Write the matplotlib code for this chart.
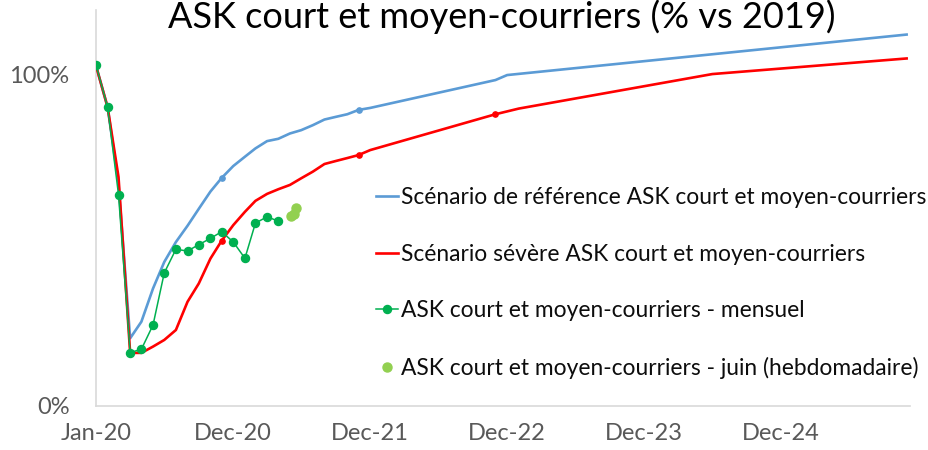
import pandas as pd
import matplotlib
matplotlib.use("Agg")
import matplotlib.pyplot as plt

plt.rcParams['font.family'] = ['Lato', 'DejaVu Sans']

# monthly points Jan-20 .. Jan-22, then a few points where the curves bend
blue_dates = list(pd.date_range('2020-01-01', '2022-01-01', freq='MS')) + \
    list(pd.to_datetime(['2022-12-01', '2023-01-01', '2025-12-01']))
blue_vals = [102.5, 90, 67, 20.4, 25.4, 35.4, 43.4, 49.4, 54.3, 59.4, 64.6, 68.7,
             72.3, 75.1, 77.6, 79.8, 80.5, 82.1, 83.1, 84.6, 86.3, 87.1, 87.9, 89.2,
             89.8, 98.2, 99.7, 111.9]

red_dates = list(pd.date_range('2020-01-01', '2022-01-01', freq='MS')) + \
    list(pd.to_datetime(['2022-12-01', '2023-02-01', '2024-07-01', '2025-12-01']))
red_vals = [102.5, 90, 69, 16, 16, 17.9, 19.9, 22.9, 31.4, 36.9, 44.4, 49.8,
            54.5, 58.5, 61.8, 63.9, 65.3, 66.6, 68.6, 70.6, 72.9, 73.8, 74.7, 75.6,
            77.1, 87.9, 89.6, 100, 104.7]

green_dates = pd.date_range('2020-01-01', '2021-05-01', freq='MS')
green_vals = [102.7, 90.0, 63.7, 16.1, 17.1, 24.4, 40.1, 47.2, 46.7, 48.6, 50.5,
              52.5, 49.4, 44.5, 55.1, 57.0, 55.7]

week_dates = pd.to_datetime(['2021-06-04', '2021-06-11', '2021-06-18'])
week_vals = [57.1, 57.7, 59.8]

# Dec-20, Dec-21 (and Dec-22) get a small dot
blue_dots = [11, 23]
red_dots = [11, 23, 25]

tick_dates = pd.to_datetime(['2020-01-01', '2020-12-31', '2021-12-31',
                             '2022-12-31', '2023-12-31', '2024-12-31'])
tick_labels = ['Jan-20', 'Dec-20', 'Dec-21', 'Dec-22', 'Dec-23', 'Dec-24']

labels = ['Scénario de référence ASK court et moyen-courriers',
          'Scénario sévère ASK court et moyen-courriers',
          'ASK court et moyen-courriers - mensuel',
          'ASK court et moyen-courriers - juin (hebdomadaire)']

blue = '#5b9bd5'
red = '#ff0000'
green = '#00b050'
lgreen = '#92d050'

fig = plt.figure(figsize=(9.29, 4.5), dpi=100)
ax = fig.add_axes([96 / 929, 44 / 450, 814 / 929, 396 / 450])

ax.plot(blue_dates, blue_vals, color=blue, lw=1.9, label=labels[0], zorder=2)
ax.plot([blue_dates[i] for i in blue_dots], [blue_vals[i] for i in blue_dots],
        'o', color=blue, ms=3.8, zorder=2)
ax.plot(red_dates, red_vals, color=red, lw=1.9, label=labels[1], zorder=3)
ax.plot([red_dates[i] for i in red_dots], [red_vals[i] for i in red_dots],
        'o', color=red, ms=3.8, zorder=3)
ax.plot(green_dates, green_vals, color=green, lw=1.1, marker='o', ms=5.8,
        label=labels[2], zorder=4)
ax.plot(week_dates, week_vals, 'o', color=lgreen, ms=6.5, label=labels[3], zorder=4)

ax.set_xlim(pd.Timestamp('2020-01-01'), pd.Timestamp('2025-12-10'))
ax.set_ylim(0, 119.3)
ax.set_xticks(tick_dates)
ax.set_xticklabels(tick_labels)
ax.set_yticks([0, 100])
ax.set_yticklabels(['0%', '100%'])
ax.tick_params(length=0, labelsize=17, labelcolor='#595959')
ax.tick_params(axis='y', pad=19)
ax.tick_params(axis='x', pad=12)
for s in ['top', 'right']:
    ax.spines[s].set_visible(False)
for s in ['left', 'bottom']:
    ax.spines[s].set_color('#d9d9d9')
    ax.spines[s].set_linewidth(1.2)

fig.text(502 / 929, 1 - 28 / 450, 'ASK court et moyen-courriers (% vs 2019)',
         ha='center', va='baseline', fontsize=26, color='black')

ax.legend(loc='upper left', bbox_to_anchor=(376 / 929, 1 - 187 / 450),
          bbox_transform=fig.transFigure, frameon=False, fontsize=16.4,
          borderpad=0, borderaxespad=0, handlelength=0.95, handletextpad=0.15,
          labelspacing=1.56, labelcolor='#0d0d0d')

fig.savefig('out.png', dpi=100)
